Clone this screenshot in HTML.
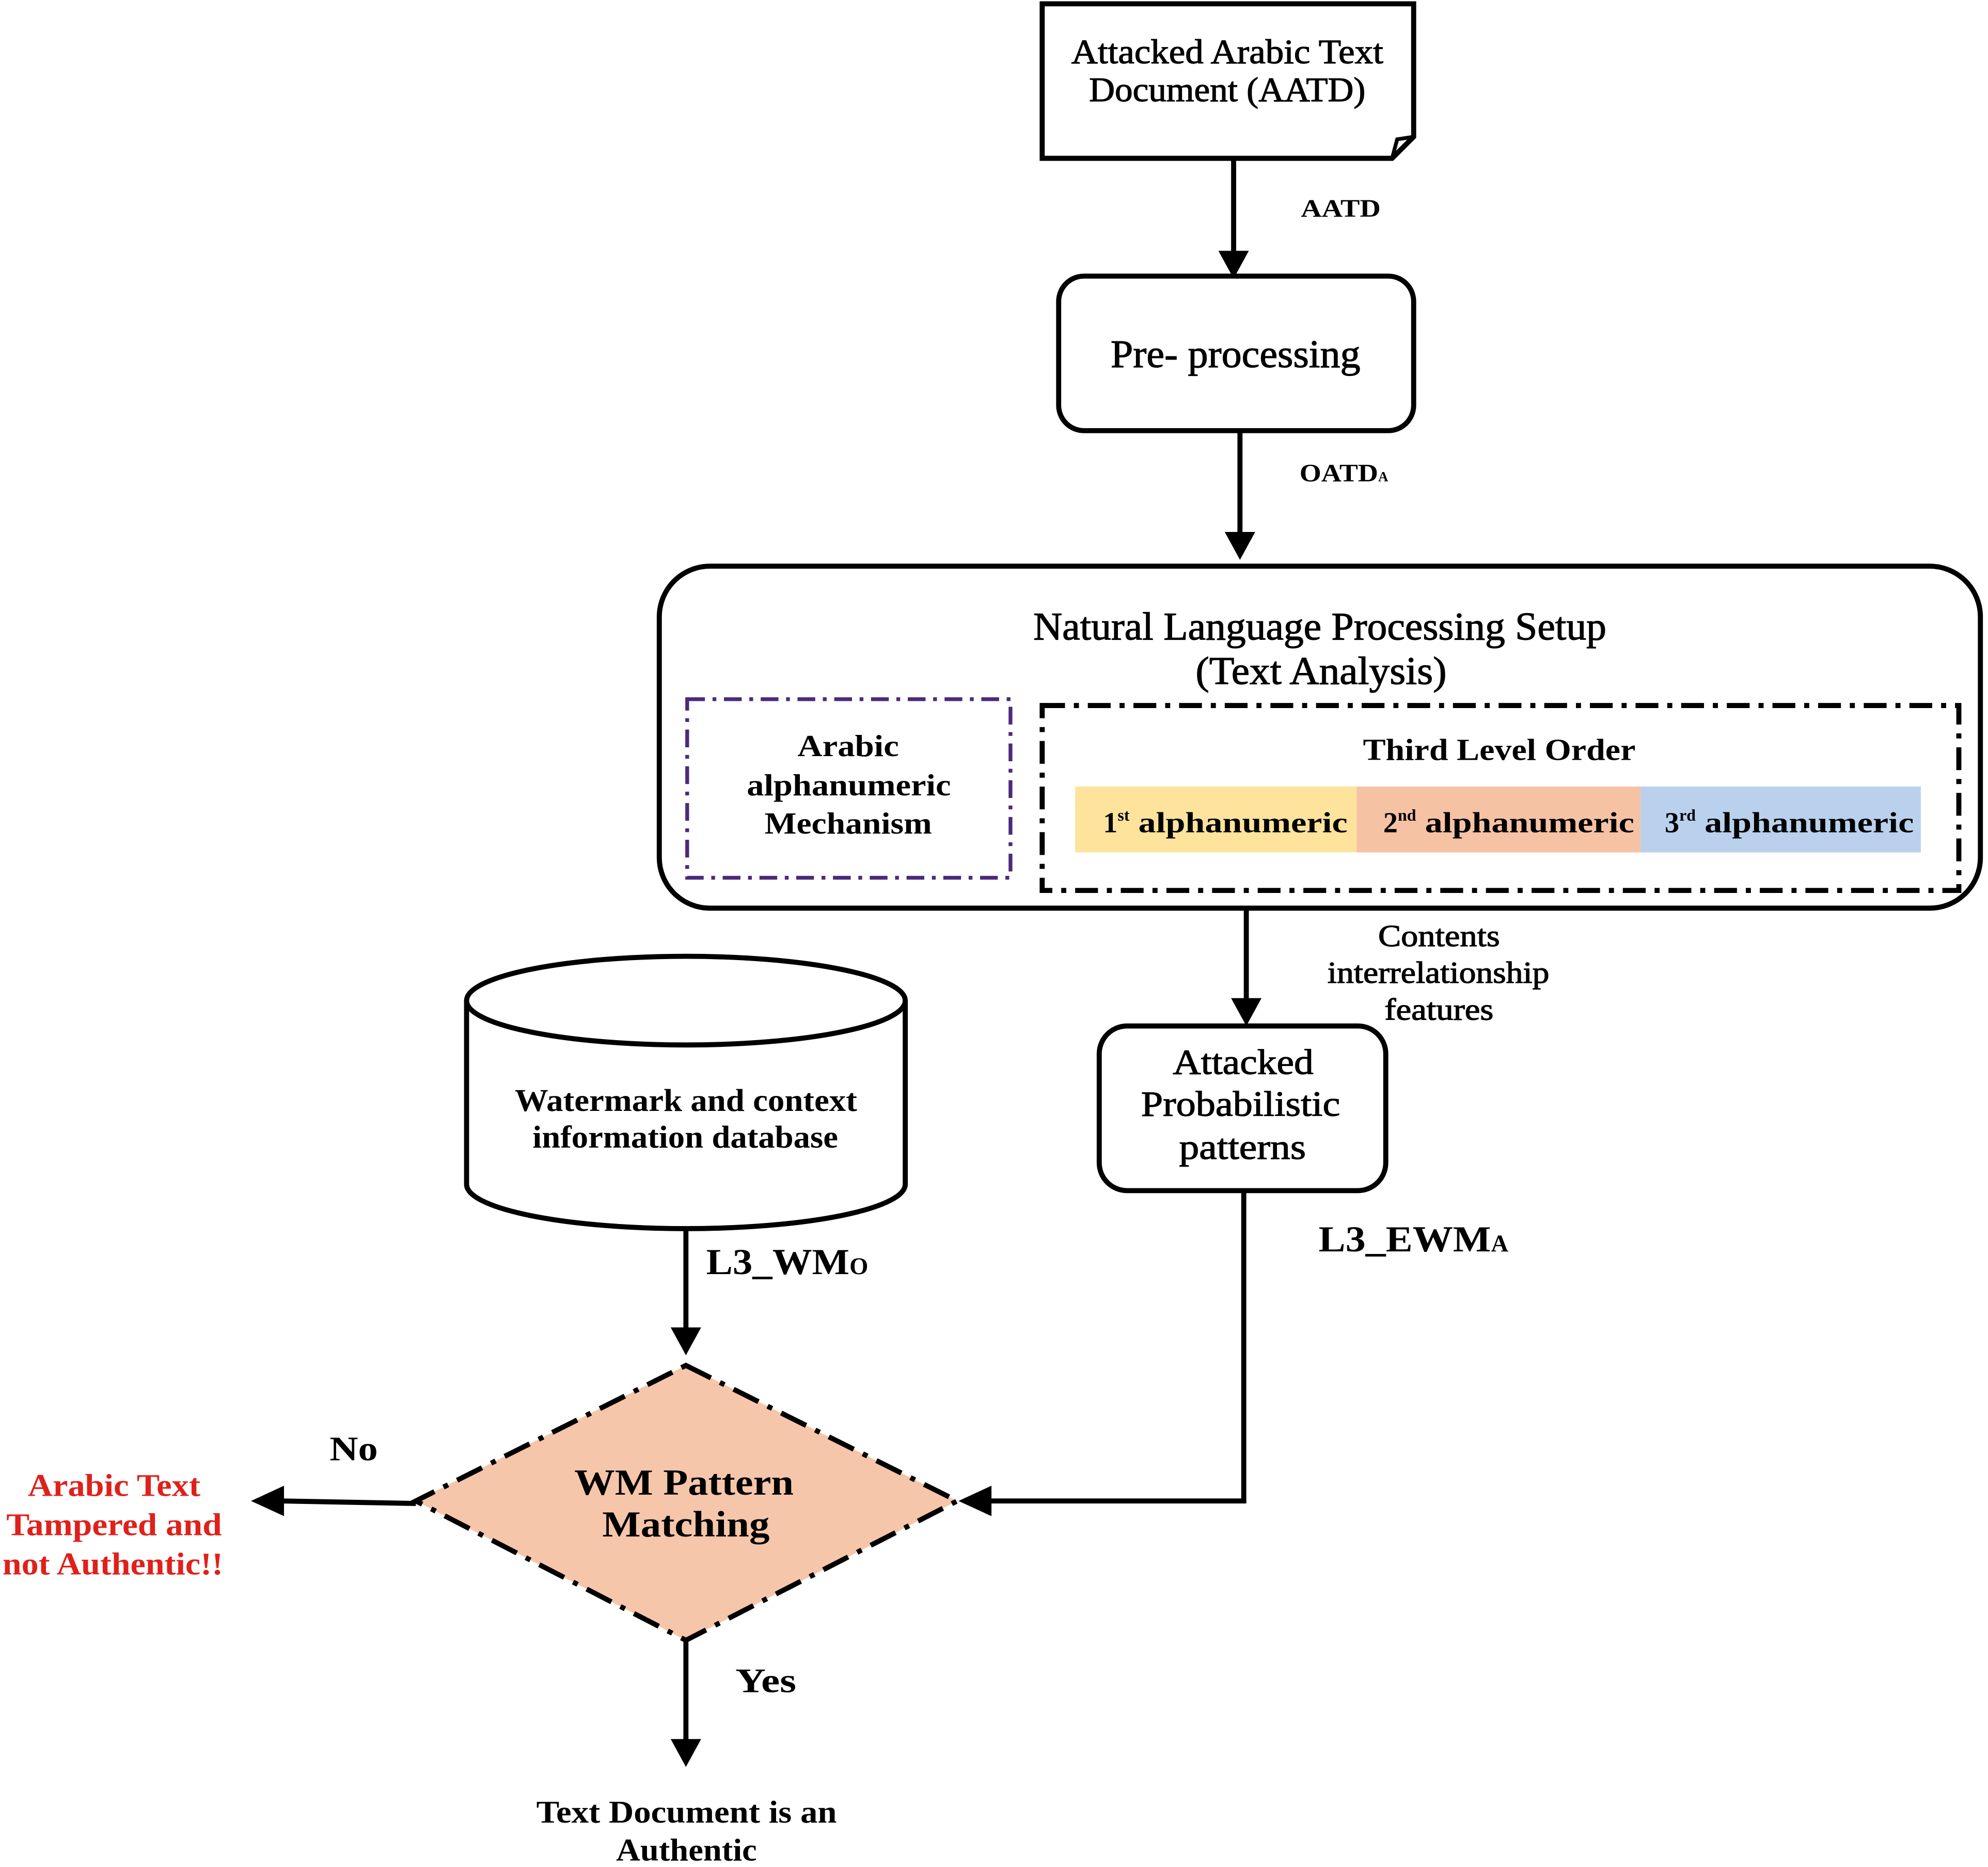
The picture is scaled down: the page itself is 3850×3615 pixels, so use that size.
<!DOCTYPE html>
<html><head><meta charset="utf-8"><style>
html,body{margin:0;padding:0;background:#fff;}
svg{display:block;}
text{font-family:"Liberation Serif",serif;}
</style></head><body>
<svg width="3850" height="3615" viewBox="0 0 1568 1474" preserveAspectRatio="none" xmlns="http://www.w3.org/2000/svg">
<g fill="none" stroke="#000" stroke-width="4">
<path d="M822,3 H1115 V108 L1098,125 H822 Z"/>
<path d="M1098,125 L1102,110 L1115,108" stroke-width="3"/>
<rect x="835" y="218" width="280" height="122" rx="20"/>
<rect x="520" y="447" width="1042" height="270" rx="40"/>
<rect x="867" y="810" width="226" height="130" rx="22"/>
<path d="M368,790 V935 A173,35 0 0 0 714,935 V790"/>
<ellipse cx="541" cy="790" rx="173" ry="35"/>
</g>
<rect x="542" y="552" width="255" height="141" fill="none" stroke="#4b2a7a" stroke-width="3" stroke-dasharray="14,6,3,6"/>
<rect x="822" y="557" width="723" height="146" fill="none" stroke="#000" stroke-width="4" stroke-dasharray="18,7,4,7"/>
<rect x="848" y="621" width="222" height="52" fill="#fde39c"/>
<rect x="1070" y="621" width="224" height="52" fill="#f5c2a4"/>
<rect x="1294" y="621" width="221" height="52" fill="#b9d1ec"/>
<path d="M541,1078 L755,1185 L541,1295 L328,1185 Z" fill="#f6c6aa" stroke="#000" stroke-width="4" stroke-dasharray="22,8,4,8"/>
<g stroke="#000" stroke-width="4" fill="none">
<line x1="973" y1="125" x2="973" y2="200"/>
<line x1="978" y1="340" x2="978" y2="422"/>
<line x1="983" y1="717" x2="983" y2="790"/>
<line x1="541" y1="970" x2="541" y2="1050"/>
<path d="M981,940 V1185 H780"/>
<line x1="328" y1="1187" x2="222" y2="1185"/>
<line x1="541" y1="1295" x2="541" y2="1375"/>
</g>
<g fill="#000">
<path d="M961,198 L985,198 L973,220 Z"/>
<path d="M966,420 L990,420 L978,442 Z"/>
<path d="M971,788 L995,788 L983,810 Z"/>
<path d="M529,1048 L553,1048 L541,1070 Z"/>
<path d="M782,1173 L782,1197 L756,1185 Z"/>
<path d="M224,1173 L224,1197 L198,1185 Z"/>
<path d="M529,1373 L553,1373 L541,1395 Z"/>
</g>
<g fill="#000">
<g stroke="#000" stroke-width="0.5">
<text x="845" y="50" font-size="27" textLength="246" lengthAdjust="spacingAndGlyphs">Attacked Arabic Text</text>
<text x="859" y="80" font-size="27" textLength="218" lengthAdjust="spacingAndGlyphs">Document (AATD)</text>
<text x="876" y="290" font-size="31" textLength="197" lengthAdjust="spacingAndGlyphs">Pre- processing</text>
<text x="815" y="505" font-size="31" textLength="452" lengthAdjust="spacingAndGlyphs">Natural Language Processing Setup</text>
<text x="943" y="540" font-size="31" textLength="198" lengthAdjust="spacingAndGlyphs">(Text Analysis)</text>
<text x="1087" y="747" font-size="24" textLength="96" lengthAdjust="spacingAndGlyphs">Contents</text>
<text x="1047" y="776" font-size="24" textLength="175" lengthAdjust="spacingAndGlyphs">interrelationship</text>
<text x="1092" y="805" font-size="24" textLength="86" lengthAdjust="spacingAndGlyphs">features</text>
<text x="925" y="848" font-size="28" textLength="111" lengthAdjust="spacingAndGlyphs">Attacked</text>
<text x="900" y="881" font-size="28" textLength="157" lengthAdjust="spacingAndGlyphs">Probabilistic</text>
<text x="930" y="915" font-size="28" textLength="100" lengthAdjust="spacingAndGlyphs">patterns</text>
</g>
<g font-weight="bold">
<text x="629" y="597" font-size="24" textLength="80" lengthAdjust="spacingAndGlyphs">Arabic</text>
<text x="589" y="628" font-size="24" textLength="161" lengthAdjust="spacingAndGlyphs">alphanumeric</text>
<text x="603" y="658" font-size="24" textLength="132" lengthAdjust="spacingAndGlyphs">Mechanism</text>
<text x="1075" y="600" font-size="24" textLength="215" lengthAdjust="spacingAndGlyphs">Third Level Order</text>
<text x="870" y="657" font-size="23">1<tspan font-size="13" dy="-9">st</tspan><tspan dy="9" textLength="172" lengthAdjust="spacingAndGlyphs"> alphanumeric</tspan></text>
<text x="1091" y="657" font-size="23">2<tspan font-size="13" dy="-9">nd</tspan><tspan dy="9" textLength="172" lengthAdjust="spacingAndGlyphs"> alphanumeric</tspan></text>
<text x="1313" y="657" font-size="23">3<tspan font-size="13" dy="-9">rd</tspan><tspan dy="9" textLength="172" lengthAdjust="spacingAndGlyphs"> alphanumeric</tspan></text>
<text x="406" y="877" font-size="25" textLength="270" lengthAdjust="spacingAndGlyphs">Watermark and context</text>
<text x="420" y="906" font-size="25" textLength="241" lengthAdjust="spacingAndGlyphs">information database</text>
<text x="453" y="1180" font-size="29" textLength="173" lengthAdjust="spacingAndGlyphs">WM Pattern</text>
<text x="475" y="1213" font-size="29" textLength="132" lengthAdjust="spacingAndGlyphs">Matching</text>
<g fill="#e0201a" font-size="25">
<text x="22" y="1181" textLength="136" lengthAdjust="spacingAndGlyphs">Arabic Text</text>
<text x="5" y="1212" textLength="170" lengthAdjust="spacingAndGlyphs">Tampered and</text>
<text x="2" y="1243" textLength="174" lengthAdjust="spacingAndGlyphs">not Authentic!!</text>
</g>
<text x="423" y="1439" font-size="25" textLength="237" lengthAdjust="spacingAndGlyphs">Text Document is an</text>
<text x="486" y="1469" font-size="25" textLength="111" lengthAdjust="spacingAndGlyphs">Authentic</text>
<text x="1026" y="171" font-size="20" textLength="63" lengthAdjust="spacingAndGlyphs">AATD</text>
<text x="1025" y="380" font-size="20"><tspan textLength="62" lengthAdjust="spacingAndGlyphs">OATD</tspan><tspan font-size="11">A</tspan></text>
<text x="557" y="1006" font-size="29"><tspan textLength="113" lengthAdjust="spacingAndGlyphs">L3_WM</tspan><tspan font-size="19">O</tspan></text>
<text x="1040" y="988" font-size="29"><tspan textLength="136" lengthAdjust="spacingAndGlyphs">L3_EWM</tspan><tspan font-size="19">A</tspan></text>
<text x="260" y="1153" font-size="27" textLength="38" lengthAdjust="spacingAndGlyphs">No</text>
<text x="580" y="1336" font-size="27" textLength="48" lengthAdjust="spacingAndGlyphs">Yes</text>
</g>
</g>
</svg>
</body></html>
